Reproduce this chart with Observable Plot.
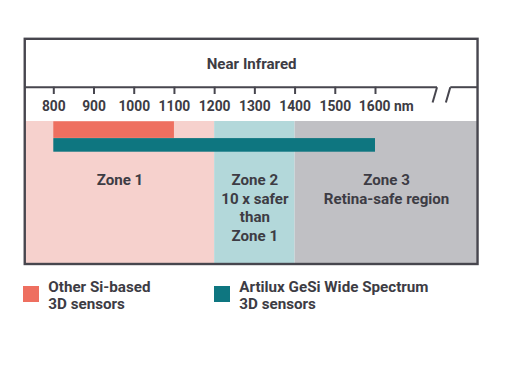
<!DOCTYPE html>
<html><head><meta charset="utf-8">
<script src="https://cdn.jsdelivr.net/npm/d3@7"></script>
<script src="https://cdn.jsdelivr.net/npm/@observablehq/plot@0.6"></script>
<style>
body{margin:0;background:#fff;font-family:Roboto,sans-serif;}
#wrap{position:relative;width:532px;height:389px;overflow:hidden;}
#wrap svg{position:absolute;left:0;top:0;}
.item{position:absolute;top:278.6px;font-size:15.2px;line-height:17px;font-weight:700;color:#3d3c44;}
.sw{position:absolute;width:16px;height:16px;}
</style></head><body><div id="wrap"></div>
<script>
// ---- data ----
const ticks = [800, 900, 1000, 1100, 1200, 1300, 1400, 1500, 1600];
const tickLabels = ["800", "900", "1000", "1100", "1200", "1300", "1400", "1500", "1600 nm"];
const zoneNames = ["Zone 1", "Zone 2", "Zone 3"];
const zoneStart = [729, 1200, 1400];
const zoneEnd = [1200, 1400, 1855];
const zoneLabels = ["Zone 1", "Zone 2\n10 x safer\nthan\nZone 1", "Zone 3\nRetina-safe region"];
const zoneColors = ["#f6d1cd", "#b3d8da", "#c0c0c4"];
const sensorNames = ["Other Si-based 3D sensors", "Artilux GeSi Wide Spectrum 3D sensors"];
const sensorLegend = ["Other Si-based\n3D sensors", "Artilux GeSi Wide Spectrum\n3D sensors"];
const sensorStart = [800, 800];
const sensorEnd = [1100, 1600];
const sensorColors = ["#ee6f60", "#0e7680"];
const bandLabel = ["Near Infrared"];
const bandRange = [729, 1855];
const breakAt = [1753, 1786];

// ---- layout (pixels, identity y) ----
const L = {boxTop: 38.8, divider: 86.7, tickEnd: 94, tickLabelY: 106.2, zoneTop: 121, boxBottom: 264,
  sensorY1: [121.3, 138.1], sensorY2: [137.9, 151.7], zoneLabelY: 171.8, slashBottom: 102, slashLean: 11};
const ink = "#3d3c44", frame = "#47464e";
const fw = 700;

const plot = Plot.plot({
  width: 532, height: 272, margin: 0,
  style: {background: "transparent", fontFamily: "Roboto, sans-serif", overflow: "visible"},
  x: {domain: [800, 1600], range: [53.3, 375], axis: null},
  y: {type: "identity", axis: null},
  marks: [
    Plot.rect(zoneNames, {x1: zoneStart, x2: zoneEnd, y1: L.zoneTop, y2: L.boxBottom, fill: zoneColors}),
    Plot.rect(sensorNames, {x1: sensorStart, x2: sensorEnd, y1: L.sensorY1, y2: L.sensorY2, fill: sensorColors}),
    Plot.text(zoneLabels, {x: (d, i) => (zoneStart[i] + zoneEnd[i]) / 2, y: L.zoneLabelY, text: d => d,
      lineAnchor: "top", lineHeight: 1.22, fontSize: 15.1, fontWeight: fw, fill: ink}),
    Plot.rect(bandLabel, {x1: bandRange[0], x2: bandRange[1], y1: L.boxTop, y2: L.boxBottom,
      fill: "none", stroke: frame, strokeWidth: 2.4}),
    Plot.link([[bandRange[0], breakAt[0]], [breakAt[1], bandRange[1]]],
      {x1: d => d[0], x2: d => d[1], y1: L.divider, y2: L.divider, stroke: frame, strokeWidth: 2}),
    Plot.link(breakAt, {x1: d => d, x2: d => d - L.slashLean, y1: L.divider, y2: L.slashBottom,
      stroke: frame, strokeWidth: 2}),
    Plot.text(bandLabel, {x: (bandRange[0] + bandRange[1]) / 2, y: 63.3, text: d => d,
      fontSize: 15.1, fontWeight: fw, fill: ink}),
    Plot.ruleX(ticks, {y1: L.divider, y2: L.tickEnd, stroke: frame, strokeWidth: 2}),
    Plot.text(ticks.slice(0, -1), {x: d => d, y: L.tickLabelY, text: (d, i) => tickLabels[i],
      fontSize: 13.8, fontWeight: fw, fill: ink}),
    Plot.text(ticks.slice(-1), {x: d => d, y: L.tickLabelY, text: () => tickLabels[tickLabels.length - 1],
      textAnchor: "start", dx: -16.7, fontSize: 13.8, fontWeight: fw, fill: ink})
  ]
});
const wrap = document.getElementById("wrap");
wrap.appendChild(plot);

const legendPos = [{sw: 23.3, tx: 48.3}, {sw: 214, tx: 239.3}];
sensorLegend.forEach((lab, i) => {
  const s = document.createElement("div");
  s.className = "sw";
  s.style.left = legendPos[i].sw + "px";
  s.style.top = "285.8px";
  s.style.background = sensorColors[i];
  wrap.appendChild(s);
  const t = document.createElement("div");
  t.className = "item";
  t.style.left = legendPos[i].tx + "px";
  t.innerHTML = lab.split("\n").join("<br>");
  wrap.appendChild(t);
});
</script></body></html>
